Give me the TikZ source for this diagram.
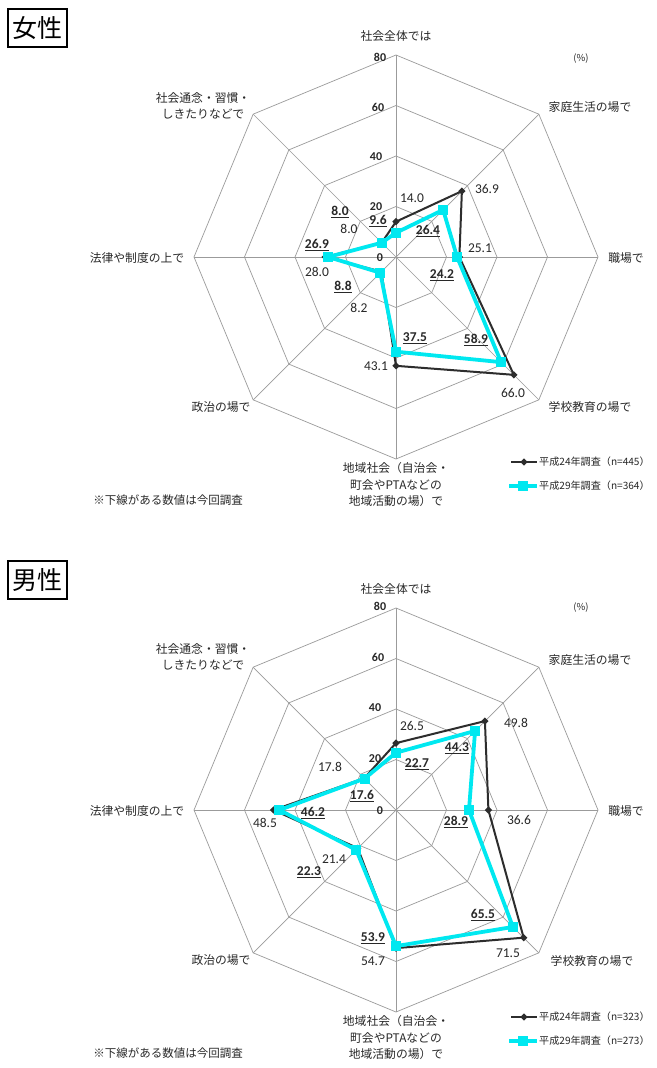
\documentclass[tikz,border=0pt]{standalone}
\usepackage{fontspec}
\setmainfont{Carlito}
\newfontfamily\jp{Noto Sans CJK JP}
\usetikzlibrary{shapes.geometric}
\definecolor{gridc}{RGB}{155,155,155}
\definecolor{darkser}{RGB}{45,45,45}
\definecolor{cyanser}{RGB}{0,232,240}
\definecolor{txt}{RGB}{40,40,40}
\newcommand\ulnum[1]{\underline{#1}}
\tikzset{
 gridline/.style={draw=gridc, line width=0.7pt},
 ser24/.style={draw=darkser, line width=2pt, line join=miter},
 ser29/.style={draw=cyanser, line width=3.8pt, line join=round},
 mk24/.style={diamond, aspect=1, fill=darkser, inner sep=0pt, minimum size=7.5pt},
 mk29/.style={rectangle, fill=cyanser, inner sep=0pt, minimum size=10pt},
 cat/.style={font=\jp\fontsize{11.8}{16.5}\selectfont, align=center, inner sep=0pt, text=txt},
 val/.style={font=\fontsize{13.5}{15}\selectfont, inner sep=0pt, text=txt},
 nval/.style={font=\bfseries\fontsize{13.5}{15}\selectfont, inner sep=0pt, text=txt},
 axl/.style={font=\bfseries\fontsize{12}{13}\selectfont, inner sep=0pt, text=txt},
 legtxt/.style={font=\jp\fontsize{10.1}{12}\selectfont, inner sep=0pt, anchor=west, text=txt},
 note/.style={font=\jp\fontsize{11.5}{13}\selectfont, inner sep=0pt, text=txt},
 pct/.style={font=\jp\fontsize{9.5}{10}\selectfont, inner sep=0pt, text=txt},
 titlebox/.style={draw=black, line width=1.6pt, font=\jp\fontsize{25}{28}\selectfont, inner sep=0pt, minimum width=59pt, minimum height=38pt},
}
\begin{document}
\begin{tikzpicture}[x=1pt,y=1pt]
\useasboundingbox (0,0) rectangle (656,-1068);
\fill[white] (0,0) rectangle (656,-1068);

% ================= Female chart =================
\node[titlebox] (tF) at (37.5,-28) {女性};
\begin{scope}[shift={(396,-257)}]
  \coordinate (cF) at (0,0);
  \foreach \r in {20,40,60,80} {
    \draw[gridline] (90:\r*2.525) -- (45:\r*2.525) -- (0:\r*2.525) -- (-45:\r*2.525)
      -- (-90:\r*2.525) -- (-135:\r*2.525) -- (180:\r*2.525) -- (135:\r*2.525) -- cycle;
  }
  \foreach \a in {90,45,0,-45,-90,-135,180,135}
    \draw[gridline] (cF) -- (\a:202);
  \foreach \v [count=\i] in {14.0,36.9,25.1,66.0,43.1,8.2,28.0,8.0}
    \coordinate (fa\i) at ({135-45*\i}:\v*2.525);
  \foreach \v [count=\i] in {9.6,26.4,24.2,58.9,37.5,8.8,26.9,8.0}
    \coordinate (fb\i) at ({135-45*\i}:\v*2.525);
\end{scope}
\draw[ser24] (fa1) -- (fa2) -- (fa3) -- (fa4) -- (fa5) -- (fa6) -- (fa7) -- (fa8) -- cycle;
\foreach \i in {1,...,8} \node[mk24] (fam\i) at (fa\i) {};
\draw[ser29] (fb1) -- (fb2) -- (fb3) -- (fb4) -- (fb5) -- (fb6) -- (fb7) -- (fb8) -- cycle;
\foreach \i in {1,...,8} \node[mk29] (fbm\i) at (fb\i) {};

% scale labels
\node[axl] (fs80) at (380,-57) {80};
\node[axl] (fs60) at (378,-107) {60};
\node[axl] (fs40) at (376,-157) {40};
\node[axl] (fs20) at (376,-207) {20};
\node[axl] (fs0) at (380,-258) {0};

% value labels
\node[val] (fv1) at (412,-198) {14.0};
\node[nval] (fw1) at (378,-221) {\ulnum{9.6}};
\node[val] (fv2) at (487,-189) {36.9};
\node[nval] (fw2) at (428,-231) {\ulnum{26.4}};
\node[val] (fv3) at (480,-248) {25.1};
\node[nval] (fw3) at (442,-275) {\ulnum{24.2}};
\node[val] (fv4) at (513,-393) {66.0};
\node[nval] (fw4) at (476,-340) {\ulnum{58.9}};
\node[val] (fv5) at (376,-366) {43.1};
\node[nval] (fw5) at (415,-338) {\ulnum{37.5}};
\node[val] (fv6) at (359,-308) {8.2};
\node[nval] (fw6) at (343,-287) {\ulnum{8.8}};
\node[val] (fv7) at (317,-272) {28.0};
\node[nval] (fw7) at (317,-245) {\ulnum{26.9}};
\node[val] (fv8) at (349,-229) {8.0};
\node[nval] (fw8) at (340,-212) {\ulnum{8.0}};

% category labels
\node[cat] (fc1) at (396,-36) {社会全体では};
\node[cat] (fc2) at (590,-107) {家庭生活の場で};
\node[cat] (fc3) at (626,-258) {職場で};
\node[cat] (fc4) at (590,-407) {学校教育の場で};
\node[cat] (fc5) at (396,-485) {地域社会（自治会・\\町会やPTAなどの\\地域活動の場）で};
\node[cat] (fc6) at (221,-407) {政治の場で};
\node[cat] (fc7) at (137,-258) {法律や制度の上で};
\node[cat] (fc8) at (203,-106) {社会通念・習慣・\\しきたりなどで};
\node[pct] (fpct) at (581,-59) {(\%)};

% legend
\coordinate (fl1a) at (511,-462); \coordinate (fl1b) at (537,-462);
\coordinate (fl2a) at (509,-486); \coordinate (fl2b) at (537,-486);
\draw[ser24] (fl1a) -- (fl1b);
\node[mk24] (flm1) at (524,-462) {};
\draw[ser29] (fl2a) -- (fl2b);
\node[mk29] (flm2) at (523,-486) {};
\node[legtxt] (flt1) at (539,-462) {平成24年調査（n=445）};
\node[legtxt] (flt2) at (539,-486) {平成29年調査（n=364）};
\node[note] (fnote) at (168,-500) {※下線がある数値は今回調査};

% ================= Male chart =================
\node[titlebox] (tM) at (37.5,-580) {男性};
\begin{scope}[shift={(396,-810)}]
  \coordinate (cM) at (0,0);
  \foreach \r in {20,40,60,80} {
    \draw[gridline] (90:\r*2.525) -- (45:\r*2.525) -- (0:\r*2.525) -- (-45:\r*2.525)
      -- (-90:\r*2.525) -- (-135:\r*2.525) -- (180:\r*2.525) -- (135:\r*2.525) -- cycle;
  }
  \foreach \a in {90,45,0,-45,-90,-135,180,135}
    \draw[gridline] (cM) -- (\a:202);
  \foreach \v [count=\i] in {26.5,49.8,36.6,71.5,54.7,21.4,48.5,17.8}
    \coordinate (ma\i) at ({135-45*\i}:\v*2.525);
  \foreach \v [count=\i] in {22.7,44.3,28.9,65.5,53.9,22.3,46.2,17.6}
    \coordinate (mb\i) at ({135-45*\i}:\v*2.525);
\end{scope}
\draw[ser24] (ma1) -- (ma2) -- (ma3) -- (ma4) -- (ma5) -- (ma6) -- (ma7) -- (ma8) -- cycle;
\foreach \i in {1,...,8} \node[mk24] (mam\i) at (ma\i) {};
\draw[ser29] (mb1) -- (mb2) -- (mb3) -- (mb4) -- (mb5) -- (mb6) -- (mb7) -- (mb8) -- cycle;
\foreach \i in {1,...,8} \node[mk29] (mbm\i) at (mb\i) {};

\node[axl] (ms80) at (380,-606) {80};
\node[axl] (ms60) at (378,-657) {60};
\node[axl] (ms40) at (375,-708) {40};
\node[axl] (ms20) at (375,-759) {20};
\node[axl] (ms0) at (380,-811) {0};

\node[val] (mv1) at (412,-726) {26.5};
\node[nval] (mw1) at (417,-764) {\ulnum{22.7}};
\node[val] (mv2) at (516,-723) {49.8};
\node[nval] (mw2) at (457,-748) {\ulnum{44.3}};
\node[val] (mv3) at (519,-820) {36.6};
\node[nval] (mw3) at (456,-822) {\ulnum{28.9}};
\node[val] (mv4) at (508,-953) {71.5};
\node[nval] (mw4) at (483,-915) {\ulnum{65.5}};
\node[val] (mv5) at (373,-961) {54.7};
\node[nval] (mw5) at (373,-938) {\ulnum{53.9}};
\node[val] (mv6) at (334,-859) {21.4};
\node[nval] (mw6) at (309,-872) {\ulnum{22.3}};
\node[val] (mv7) at (265,-823) {48.5};
\node[nval] (mw7) at (313,-813) {\ulnum{46.2}};
\node[val] (mv8) at (330,-767) {17.8};
\node[nval] (mw8) at (362,-796) {\ulnum{17.6}};

\node[cat] (mc1) at (396,-589) {社会全体では};
\node[cat] (mc2) at (590,-660) {家庭生活の場で};
\node[cat] (mc3) at (626,-811) {職場で};
\node[cat] (mc4) at (592,-961) {学校教育の場で};
\node[cat] (mc5) at (396,-1038) {地域社会（自治会・\\町会やPTAなどの\\地域活動の場）で};
\node[cat] (mc6) at (221,-960) {政治の場で};
\node[cat] (mc7) at (137,-811) {法律や制度の上で};
\node[cat] (mc8) at (203,-657) {社会通念・習慣・\\しきたりなどで};
\node[pct] (mpct) at (581,-608) {(\%)};

\coordinate (ml1a) at (511,-1017); \coordinate (ml1b) at (537,-1017);
\coordinate (ml2a) at (509,-1041); \coordinate (ml2b) at (537,-1041);
\draw[ser24] (ml1a) -- (ml1b);
\node[mk24] (mlm1) at (524,-1017) {};
\draw[ser29] (ml2a) -- (ml2b);
\node[mk29] (mlm2) at (523,-1041) {};
\node[legtxt] (mlt1) at (539,-1017) {平成24年調査（n=323）};
\node[legtxt] (mlt2) at (539,-1041) {平成29年調査（n=273）};
\node[note] (mnote) at (168,-1053) {※下線がある数値は今回調査};
\end{tikzpicture}
\end{document}
